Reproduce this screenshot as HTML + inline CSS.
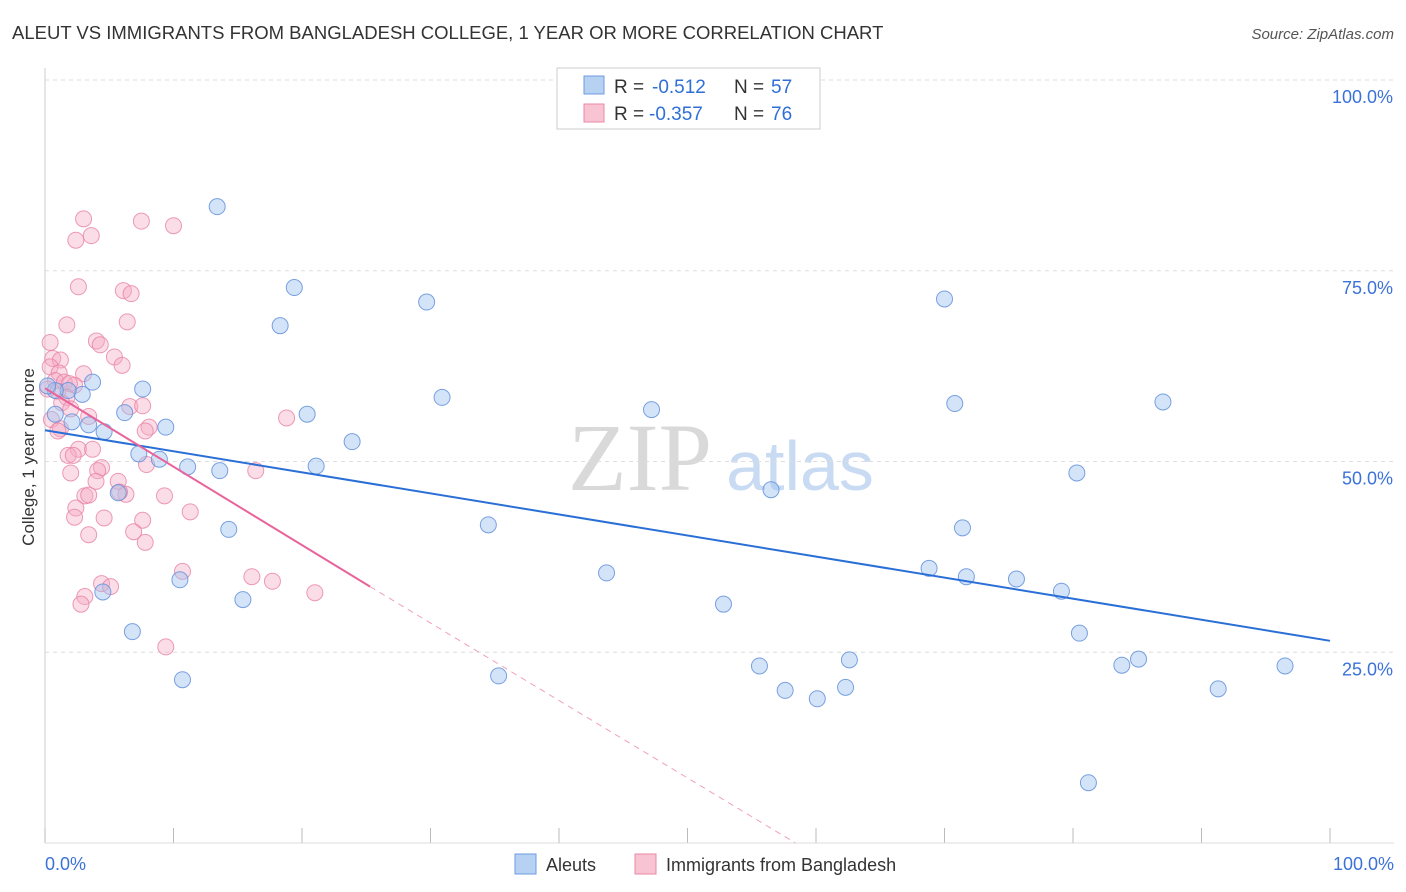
<!DOCTYPE html>
<html><head><meta charset="utf-8"><style>
body{margin:0;background:#fff;font-family:"Liberation Sans",sans-serif}
svg{display:block}
</style></head><body>
<svg id="chart" width="1406" height="892" xmlns="http://www.w3.org/2000/svg">
<text x="12" y="39" font-size="18.5" fill="#333">ALEUT VS IMMIGRANTS FROM BANGLADESH COLLEGE, 1 YEAR OR MORE CORRELATION CHART</text>
<text x="1394" y="39" font-size="15" fill="#555" font-style="italic" text-anchor="end">Source: ZipAtlas.com</text>
<text x="0" y="0" transform="translate(34,457) rotate(-90)" font-size="17" fill="#333" text-anchor="middle">College, 1 year or more</text>
<text x="640" y="490" font-size="96" fill="#d9d9d9" font-family="Liberation Serif,serif" text-anchor="middle">ZIP</text>
<text x="800" y="490" font-size="70" fill="#c9dbf2" text-anchor="middle">atlas</text>
<g id="grid"></g><g id="pts"></g><g id="lines"></g>
<g>
<rect x="557" y="68" width="263" height="61" fill="#fff" stroke="#ccc"/>
<rect x="584" y="76" width="20" height="18" fill="#b7d1f3" stroke="#6f9be0"/>
<rect x="584" y="104" width="20" height="18" fill="#f8c3d3" stroke="#e88aa6"/>
<text x="614" y="93" font-size="19" fill="#333">R =</text>
<text x="652" y="93" font-size="19" fill="#2f6fd6">-0.512</text>
<text x="734" y="93" font-size="19" fill="#333">N =</text>
<text x="771" y="93" font-size="19" fill="#2f6fd6">57</text>
<text x="614" y="120" font-size="19" fill="#333">R =</text>
<text x="649" y="120" font-size="19" fill="#2f6fd6">-0.357</text>
<text x="734" y="120" font-size="19" fill="#333">N =</text>
<text x="771" y="120" font-size="19" fill="#2f6fd6">76</text>
</g>
<g>
<rect x="515" y="854" width="21" height="20" fill="#b7d1f3" stroke="#6f9be0"/>
<text x="546" y="871" font-size="18" fill="#333">Aleuts</text>
<rect x="635" y="854" width="21" height="20" fill="#f8c3d3" stroke="#e88aa6"/>
<text x="666" y="871" font-size="18" fill="#333">Immigrants from Bangladesh</text>
</g>
<text x="45" y="870" font-size="18" fill="#3b72d9">0.0%</text>
<text x="1394" y="870" font-size="18" fill="#3b72d9" text-anchor="end">100.0%</text>
</svg>
<script>
const NS="http://www.w3.org/2000/svg";
const X0=45,X1=1330,Y0=843,Y1=80;
const xs=v=>X0+(X1-X0)*v/100, ys=v=>Y0-(Y0-Y1)*v/100;
const yTicks=[25,50,75,100];
const yTickLabels=["25.0%","50.0%","75.0%","100.0%"];
const aleutX=[13.4,19.4,18.3,29.7,70.0,3.7,7.6,2.9,1.8,0.8,6.2,2.1,3.4,4.6,9.4,20.4,23.9,30.9,47.2,70.8,87.0,7.3,8.9,11.1,13.6,21.1,80.3,5.7,56.5,14.3,34.5,71.4,43.7,68.8,71.7,75.6,79.1,10.5,4.5,15.4,52.8,6.8,80.5,55.6,62.6,83.8,85.1,96.5,10.7,35.3,57.6,60.1,62.3,91.3,81.2,0.8,0.2];
const aleutY=[83.4,72.8,67.8,70.9,71.3,60.4,59.5,58.8,59.3,56.2,56.4,55.2,54.8,53.9,54.5,56.2,52.6,58.4,56.8,57.6,57.8,51.0,50.3,49.3,48.8,49.4,48.5,45.9,46.3,41.1,41.7,41.3,35.4,36.0,34.9,34.6,33.0,34.5,32.9,31.9,31.3,27.7,27.5,23.2,24.0,23.3,24.1,23.2,21.4,21.9,20.0,18.9,20.4,20.2,7.9,59.3,59.9];
const bangX=[3.0,7.5,10.0,3.6,2.4,2.6,6.1,6.7,1.7,6.4,0.4,4.0,4.3,0.6,1.2,5.4,6.0,0.4,1.1,3.0,0.8,1.5,2.3,0.2,1.0,1.9,1.7,1.3,2.0,0.5,3.4,6.6,7.6,1.2,8.1,1.0,7.8,18.8,2.6,3.7,1.8,2.2,7.9,4.4,4.1,16.4,2.0,3.97,5.7,6.3,3.1,3.4,9.3,2.4,11.3,2.3,4.6,7.6,6.9,3.4,7.8,10.7,4.4,16.1,17.7,5.1,3.1,2.8,21.0,9.4,5.8];
const bangY=[81.8,81.5,80.9,79.6,79.0,72.9,72.4,72.0,67.9,68.3,65.6,65.8,65.3,63.5,63.3,63.7,62.6,62.4,61.6,61.5,60.6,60.4,60.0,59.5,59.2,60.2,58.4,57.7,56.9,55.5,55.9,57.2,57.3,54.3,54.5,54.0,54.0,55.7,51.6,51.6,50.8,50.8,49.6,49.2,48.8,48.8,48.5,47.4,47.4,45.7,45.5,45.6,45.5,43.9,43.4,42.7,42.6,42.3,40.8,40.4,39.4,35.6,34.0,34.9,34.3,33.6,32.3,31.3,32.8,25.7,46.0];
const aleutLine=[0,54.1,100,26.5];
const bangLine=[0,59.6,25.3,33.6,58.4,0];
const grid=document.getElementById('grid'),pts=document.getElementById('pts'),lines=document.getElementById('lines');
function mk(p,tag,at){const e=document.createElementNS(NS,tag);for(const k in at)e.setAttribute(k,at[k]);p.appendChild(e);return e;}
mk(grid,'line',{x1:X0,y1:68,x2:X0,y2:Y0,stroke:'#ccc'});
yTicks.forEach((t,i)=>{
 const g=mk(grid,'line',{x1:X0,y1:ys(t),x2:1394,y2:ys(t),stroke:'#ddd','stroke-dasharray':'4,4'});
 
 
 const l=mk(grid,'text',{x:1393,y:ys(t)+23,'font-size':18,fill:'#3b72d9','text-anchor':'end'});l.textContent=yTickLabels[i];
 
 
});
for(let i=0;i<=10;i++){const t=mk(grid,'line',{x1:xs(i*10),y1:828,x2:xs(i*10),y2:Y0,stroke:'#bbb'});
 
 }
mk(grid,'line',{x1:X0,y1:Y0,x2:1394,y2:Y0,stroke:'#ddd'});
bangX.forEach((v,i)=>{const c=mk(pts,'circle',{cx:xs(v),cy:ys(bangY[i]),r:8,fill:'rgba(244,170,195,0.4)',stroke:'rgba(232,130,165,0.8)','stroke-width':1});
 
 });
aleutX.forEach((v,i)=>{const c=mk(pts,'circle',{cx:xs(v),cy:ys(aleutY[i]),r:8,fill:'rgba(160,195,240,0.45)',stroke:'rgba(100,145,220,0.85)','stroke-width':1});
 
 });
const al=mk(lines,'line',{x1:xs(aleutLine[0]),y1:ys(aleutLine[1]),x2:xs(aleutLine[2]),y2:ys(aleutLine[3]),stroke:'#2a6fd6','stroke-width':2});


const bl=mk(lines,'line',{x1:xs(bangLine[0]),y1:ys(bangLine[1]),x2:xs(bangLine[2]),y2:ys(bangLine[3]),stroke:'#e8649a','stroke-width':2});


const bd=mk(lines,'line',{x1:xs(bangLine[2]),y1:ys(bangLine[3]),x2:xs(bangLine[4]),y2:ys(bangLine[5]),stroke:'#f0a0bd','stroke-width':1,'stroke-dasharray':'6,5'});


</script>
</body></html>
